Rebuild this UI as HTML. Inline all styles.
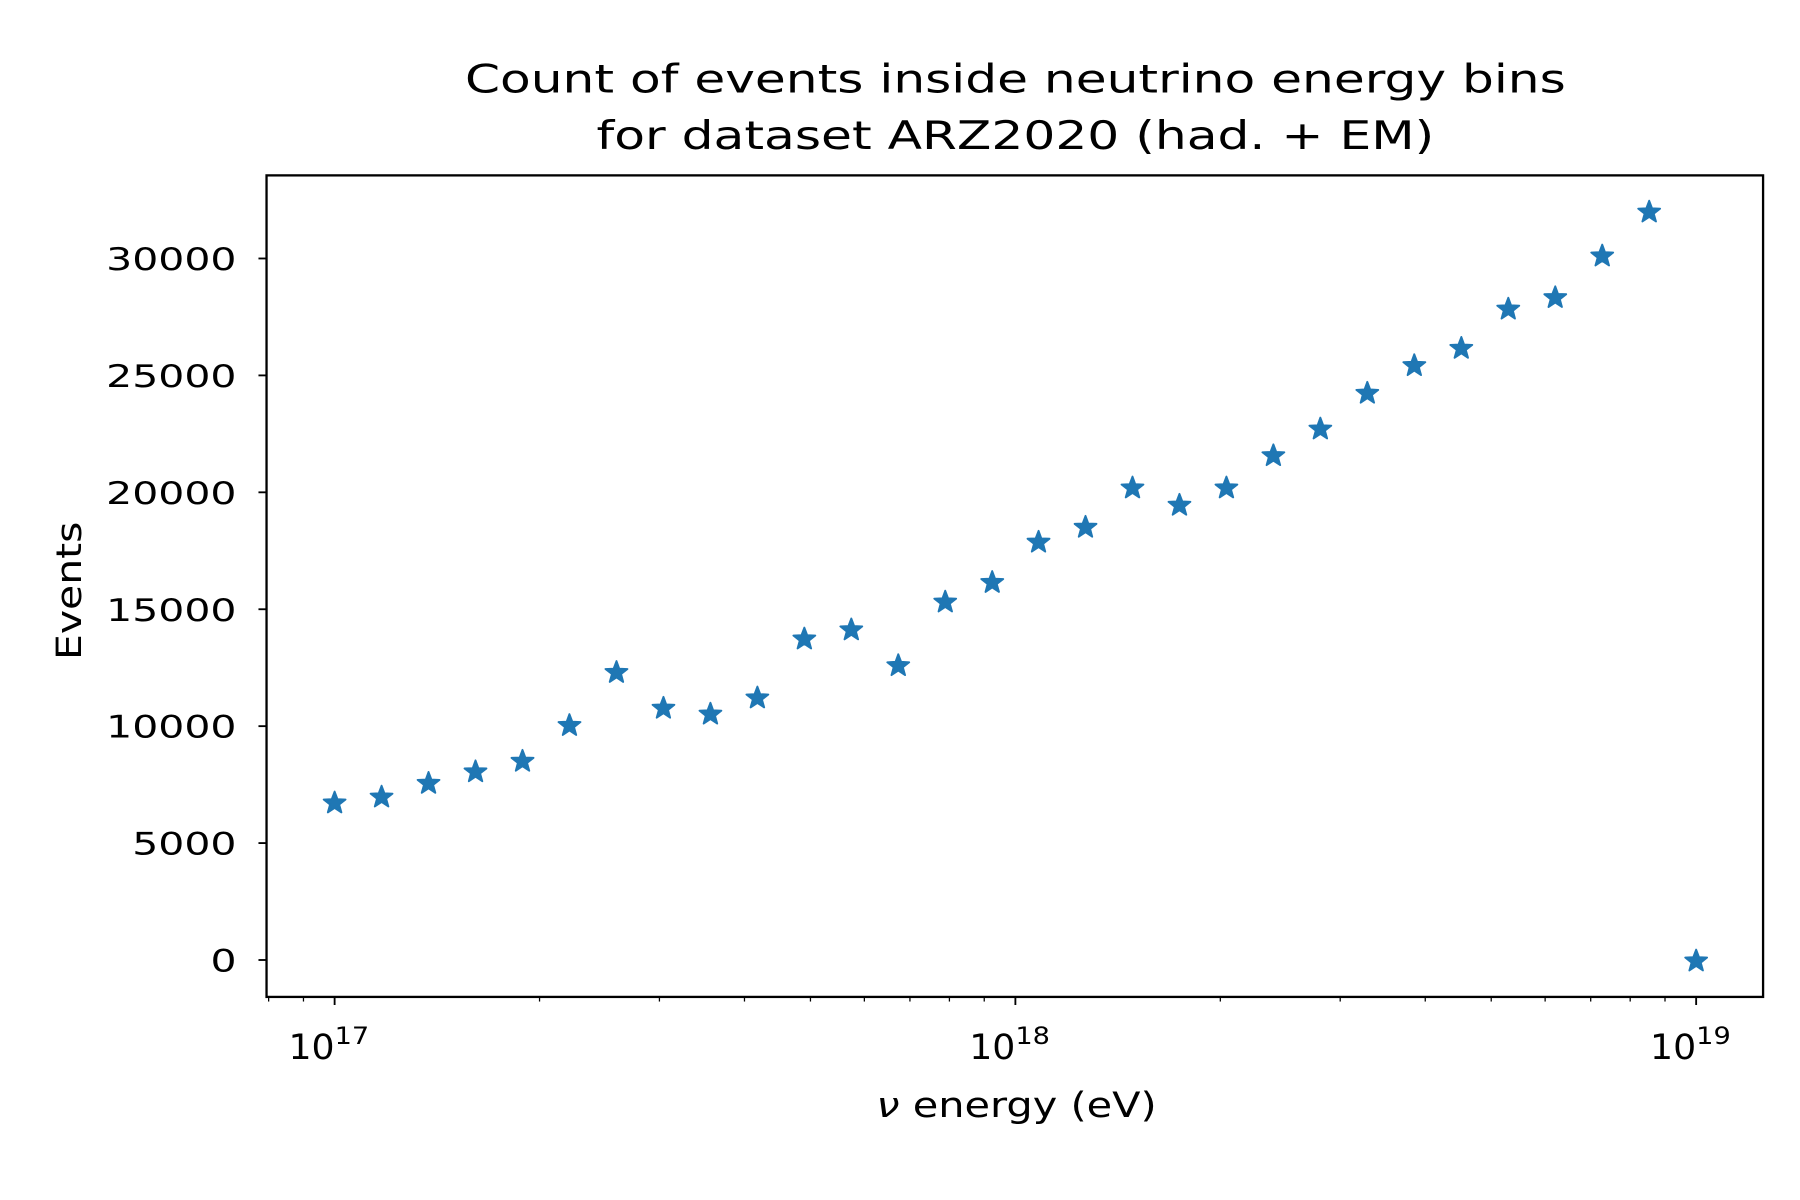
<!DOCTYPE html>
<html><head><meta charset="utf-8"><style>
html,body{margin:0;padding:0;background:#fff;}
svg{display:block;font-family:"DejaVu Sans","Liberation Sans",sans-serif;}
</style></head><body>
<svg id="chart" width="1800" height="1200" viewBox="0 0 1560 1040" xmlns="http://www.w3.org/2000/svg">
<rect width="1560" height="1040" fill="#fff"/>
<text x="880" y="80" text-anchor="middle" font-size="34" textLength="954" lengthAdjust="spacingAndGlyphs">Count of events inside neutrino energy bins</text>
<text x="880" y="129" text-anchor="middle" font-size="34" textLength="726" lengthAdjust="spacingAndGlyphs">for dataset ARZ2020 (had. + EM)</text>
<text x="881" y="968" text-anchor="middle" font-size="30" textLength="243" lengthAdjust="spacingAndGlyphs"><tspan font-style="italic">ν</tspan> energy (eV)</text>
<text transform="translate(70,512) rotate(-90)" text-anchor="middle" font-size="30" textLength="120" lengthAdjust="spacingAndGlyphs">Events</text>
<g id="ticks"></g>
<g id="marks"></g>
<rect x="231" y="152" width="1297" height="712" fill="none" stroke="#000" stroke-width="2"/>
</svg>
<script>
const logEnergy = [17.000,17.069,17.138,17.207,17.276,17.345,17.414,17.483,17.552,17.621,17.690,17.759,17.828,17.897,17.966,18.034,18.103,18.172,18.241,18.310,18.379,18.448,18.517,18.586,18.655,18.724,18.793,18.862,18.931,19.000];
const events = [6760,7010,7600,8090,8540,10070,12340,10810,10560,11250,13770,14160,12630,15350,16190,17910,18550,20230,19490,20230,21610,22750,24280,25460,26200,27880,28370,30150,32030,0];
const yTicks = [0,5000,10000,15000,20000,25000,30000];
const xMajor = [17,18,19];
const xMinorMant = [2,3,4,5,6,7,8,9];

const NS='http://www.w3.org/2000/svg';
const L=231,R=1528,T=152,B=864;
function xs(lg){return 290+(lg-17)*590;}
function ys(v){return 832-(v/5000)*101.33;}
const tg=document.getElementById('ticks'), mg=document.getElementById('marks');
function mk(tag,attrs,parent){const e=document.createElementNS(NS,tag);for(const k in attrs)e.setAttribute(k,attrs[k]);parent.appendChild(e);return e;}

yTicks.forEach(v=>{
  const y=ys(v);
  const t=mk('line',{x1:L-7,x2:L,y1:y,y2:y,stroke:'#000','stroke-width':1.6},tg);
  
  
  const s=String(v);
  const lb=mk('text',{x:L-26,y:y+10,'text-anchor':'end','font-size':27,textLength:s.length*22.6,lengthAdjust:'spacingAndGlyphs'},tg);
  lb.textContent=s;
  
  
});
xMajor.forEach(e=>{
  const x=xs(e);
  const t=mk('line',{x1:x,x2:x,y1:B,y2:B+7,stroke:'#000','stroke-width':1.6},tg);
  
  
  const lb=mk('text',{x:x-40,y:918,'font-size':30},tg);
  
  
  const a=document.createElementNS(NS,'tspan');a.setAttribute('textLength','40');a.setAttribute('lengthAdjust','spacingAndGlyphs');a.textContent='10';lb.appendChild(a);
  const b=document.createElementNS(NS,'tspan');b.setAttribute('dy','-13');b.setAttribute('font-size','21');b.setAttribute('textLength','30');b.setAttribute('lengthAdjust','spacingAndGlyphs');b.textContent=String(e);lb.appendChild(b);
});
[16,17,18].forEach(e=>{
  xMinorMant.forEach(m=>{
    const x=xs(e+Math.log10(m));
    if(x<L||x>R)return;
    const t=mk('line',{x1:x,x2:x,y1:B,y2:B+4,stroke:'#000','stroke-width':1.1},tg);
    
    
  });
});
function star(cx,cy,rx,ry){
  let p=[];
  for(let i=0;i<10;i++){
    const r=i%2?0.42:1;const a=-Math.PI/2+i*Math.PI/5;
    p.push((cx+Math.cos(a)*rx*r).toFixed(1)+','+(cy+Math.sin(a)*ry*r+ry*0.1).toFixed(1));
  }
  return p.join(' ');
}
logEnergy.forEach((lg,i)=>{
  const pt=mk('polygon',{points:star(xs(lg),ys(events[i]),10,10),fill:'#1f77b4',stroke:'#1f77b4','stroke-width':1.6,'stroke-linejoin':'round'},mg);
  
  
});
</script>
</body></html>
